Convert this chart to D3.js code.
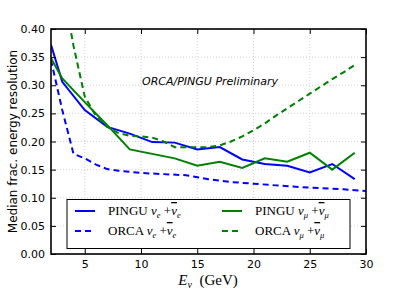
<!DOCTYPE html>
<html><head><meta charset="utf-8">
<script src="https://cdn.jsdelivr.net/npm/d3@7"></script>
<style>body{margin:0;background:#fff}</style>
</head><body>
<svg id="c" width="407" height="291"></svg>
<script>
const xTicks = [5, 10, 15, 20, 25, 30];
const yTicks = [0, 0.05, 0.10, 0.15, 0.20, 0.25, 0.30, 0.35, 0.40];

const pinguE_x = [2, 3, 5, 7, 9, 11, 13, 15, 17, 19, 21, 23, 25, 27, 29];
const pinguE_y = [0.372, 0.306, 0.256, 0.226, 0.214, 0.199, 0.198, 0.186, 0.19, 0.168, 0.16, 0.157, 0.145, 0.16, 0.133];

const pinguMu_x = [2, 3, 5, 7, 9, 11, 13, 15, 17, 19, 21, 23, 25, 27, 29];
const pinguMu_y = [0.348, 0.312, 0.27, 0.229, 0.186, 0.178, 0.17, 0.157, 0.164, 0.153, 0.17, 0.164, 0.18, 0.15, 0.18];

const orcaE_x = [2, 3, 4, 5, 6, 7, 8, 9, 10, 12, 14, 16, 18, 20, 22, 24, 26, 28, 30];
const orcaE_y = [0.345, 0.256, 0.178, 0.17, 0.159, 0.151, 0.148, 0.146, 0.144, 0.142, 0.14, 0.133, 0.128, 0.125, 0.122, 0.119, 0.117, 0.115, 0.112];

const orcaMu_x = [3, 4, 5, 6, 7, 8, 9, 10, 11, 12, 13, 14, 15, 16, 17, 18, 19, 20, 21, 22, 23, 24, 25, 26, 27, 28, 29];
const orcaMu_y = [0.48, 0.37, 0.28, 0.245, 0.226, 0.215, 0.21, 0.209, 0.207, 0.2, 0.19, 0.19, 0.19, 0.19, 0.193, 0.2, 0.209, 0.22, 0.232, 0.246, 0.259, 0.272, 0.285, 0.298, 0.311, 0.323, 0.336];

(function () {
const svg = d3.select("#c");
const L = 51, R = 366, T = 29, B = 254;
const x = d3.scaleLinear().domain([2, 30]).range([L, R]);
const y = d3.scaleLinear().domain([0, 0.40]).range([B, T]);

// grid
const g = svg.append("g");
g.selectAll(".gx").data(xTicks).enter().append("line")
  .attr("x1", d => x(d)).attr("x2", d => x(d)).attr("y1", T).attr("y2", B)
  .attr("stroke", "#c8c8c8").attr("stroke-width", 0.8).attr("stroke-dasharray", "1,2");
g.selectAll(".gy").data(yTicks).enter().append("line")
  .attr("x1", L).attr("x2", R).attr("y1", d => y(d)).attr("y2", d => y(d))
  .attr("stroke", "#c8c8c8").attr("stroke-width", 0.8).attr("stroke-dasharray", "1,2");

svg.append("clipPath").attr("id", "clip").append("rect")
  .attr("x", L).attr("y", T).attr("width", R - L).attr("height", B - T);

const line = d3.line().x(d => x(d[0])).y(d => y(d[1]));
const series = [
  {xs: pinguE_x, ys: pinguE_y, color: "#0000ff", dash: null},
  {xs: orcaE_x, ys: orcaE_y, color: "#0000ff", dash: "6,4"},
  {xs: pinguMu_x, ys: pinguMu_y, color: "#008000", dash: null},
  {xs: orcaMu_x, ys: orcaMu_y, color: "#008000", dash: "6,4"}
];
const lg = svg.append("g").attr("clip-path", "url(#clip)");
series.forEach(s => {
  lg.append("path").datum(s.xs.map((v, i) => [v, s.ys[i]]))
    .attr("d", line).attr("fill", "none").attr("stroke", s.color)
    .attr("stroke-width", 2).attr("stroke-dasharray", s.dash);
});

// axes (ticks inward on all sides)
const ax = svg.append("g");
const aBottom = d3.axisBottom(x).tickValues(xTicks).tickSizeInner(-5).tickSizeOuter(0).tickPadding(6).tickFormat(d3.format("d"));
const aLeft = d3.axisLeft(y).tickValues(yTicks).tickSizeInner(-5).tickSizeOuter(0).tickPadding(6).tickFormat(d3.format(".2f"));
const aTop = d3.axisTop(x).tickValues(xTicks).tickSizeInner(-5).tickSizeOuter(0).tickFormat("");
const aRight = d3.axisRight(y).tickValues(yTicks).tickSizeInner(-5).tickSizeOuter(0).tickFormat("");
ax.append("g").attr("transform", `translate(0,${B})`).call(aBottom);
ax.append("g").attr("transform", `translate(${L},0)`).call(aLeft);
ax.append("g").attr("transform", `translate(0,${T})`).call(aTop);
ax.append("g").attr("transform", `translate(${R},0)`).call(aRight);
ax.selectAll(".domain").remove();
ax.selectAll(".tick line").attr("stroke", "#000").attr("stroke-width", 1);
ax.selectAll(".tick text").attr("font-family", "DejaVu Sans").attr("font-size", 11).attr("fill", "#000");

svg.append("rect").attr("x", L).attr("y", T).attr("width", R - L).attr("height", B - T)
  .attr("fill", "none").attr("stroke", "#000").attr("stroke-width", 1.6);

// annotation
svg.append("text").attr("x", 210).attr("y", 85).attr("text-anchor", "middle")
  .attr("font-family", "DejaVu Sans").attr("font-style", "italic").attr("font-size", 11)
  .text("ORCA/PINGU Preliminary");

// y label
svg.append("text").attr("transform", `translate(17,${(T + B) / 2}) rotate(-90)`)
  .attr("text-anchor", "middle").attr("font-family", "DejaVu Sans").attr("font-size", 12)
  .text("Median frac. energy resolution");

// x label
const xl = svg.append("text").attr("x", 208).attr("y", 285).attr("text-anchor", "middle")
  .attr("font-family", "Liberation Serif").attr("font-size", 15);
xl.append("tspan").attr("font-style", "italic").text("E");
xl.append("tspan").attr("font-style", "italic").attr("font-size", 10).attr("dy", 3).text("ν");
xl.append("tspan").attr("dy", -3).text("\u2002(GeV)");

// legend
const leg = svg.append("g");
leg.append("rect").attr("x", 67).attr("y", 199.5).attr("width", 283).attr("height", 49)
  .attr("fill", "#fff").attr("stroke", "#000").attr("stroke-width", 1);
const entries = [
  {name: "PINGU", sub: "e", color: "#0000ff", dash: null, lx: 75, ly: 211},
  {name: "ORCA", sub: "e", color: "#0000ff", dash: "6,4", lx: 75, ly: 231},
  {name: "PINGU", sub: "μ", color: "#008000", dash: null, lx: 222, ly: 211},
  {name: "ORCA", sub: "μ", color: "#008000", dash: "6,4", lx: 222, ly: 231}
];
entries.forEach(e => {
  leg.append("line").attr("x1", e.lx).attr("x2", e.lx + 20).attr("y1", e.ly).attr("y2", e.ly)
    .attr("stroke", e.color).attr("stroke-width", 2).attr("stroke-dasharray", e.dash);
  const t = leg.append("text").attr("x", e.lx + 33).attr("y", e.ly + 4)
    .attr("font-family", "Liberation Serif").attr("font-size", 13);
  t.append("tspan").text(e.name + " ");
  t.append("tspan").attr("font-style", "italic").text("ν");
  t.append("tspan").attr("font-style", "italic").attr("font-size", 8.5).attr("dy", 3).text(e.sub);
  t.append("tspan").attr("dy", -3).text(" +");
  t.append("tspan").attr("font-style", "italic").style("text-decoration", "overline").text("ν");
  t.append("tspan").attr("font-style", "italic").attr("font-size", 8.5).attr("dy", 3).text(e.sub);
});
})();
</script>
</body></html>
